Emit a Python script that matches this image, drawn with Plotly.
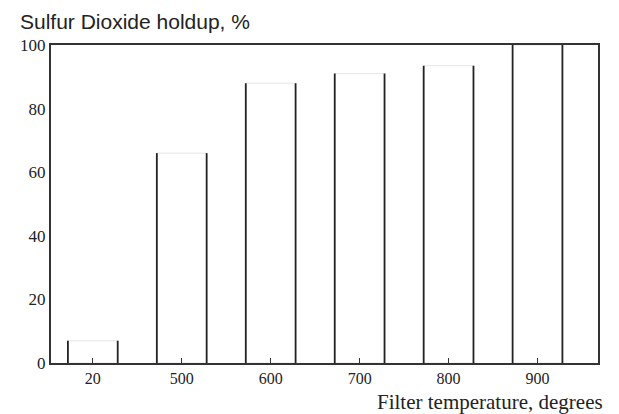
import plotly.graph_objects as go

categories = ["20", "500", "600", "700", "800", "900"]
holdup = [7, 66, 88, 91, 93.5, 100]
y_ticks = [0, 20, 40, 60, 80, 100]

W = 0.56  # bar width in category units
xs = list(range(len(categories)))

fig = go.Figure()
fig.add_trace(go.Bar(
    x=xs, y=holdup, width=W,
    marker=dict(color="white", line=dict(color="#e6e6e6", width=1)),
    hoverinfo="skip", showlegend=False,
))

sx, sy = [], []
for i, v in zip(xs, holdup):
    for edge in (i - W / 2, i + W / 2):
        sx += [edge, edge, None]
        sy += [0, v, None]
fig.add_trace(go.Scatter(
    x=sx, y=sy, mode="lines",
    line=dict(color="#222", width=1.8),
    hoverinfo="skip", showlegend=False,
))

fig.update_layout(
    width=619, height=414,
    margin=dict(l=40, r=29, t=37, b=59),
    paper_bgcolor="white", plot_bgcolor="white",
    showlegend=False,
    font=dict(family="Liberation Serif", color="#222"),
    xaxis=dict(
        range=[-0.47, 5.68],
        tickmode="array", tickvals=xs, ticktext=categories,
        ticks="inside", ticklen=5, tickwidth=1.2, tickcolor="#333",
        showline=True, linecolor="#333", linewidth=2, mirror=True,
        showgrid=False, zeroline=False,
        tickfont=dict(family="Liberation Serif", size=16, color="#222"),
    ),
    yaxis=dict(
        range=[0, 100],
        tickmode="array", tickvals=y_ticks,
        ticks="", showline=True, linecolor="#333", linewidth=2, mirror=True,
        showgrid=False, zeroline=False,
        tickfont=dict(family="Liberation Serif", size=17, color="#222"),
    ),
    annotations=[
        dict(text="Sulfur Dioxide holdup, %", xref="paper", yref="paper",
             x=0, y=1.0, xshift=-33, yshift=24, xanchor="left", yanchor="middle",
             showarrow=False,
             font=dict(family="Liberation Sans", size=21, color="#222")),
        dict(text="Filter temperature, degrees", xref="paper", yref="paper",
             x=1.0, y=0, xshift=7, yshift=-39, xanchor="right", yanchor="middle",
             showarrow=False,
             font=dict(family="Liberation Serif", size=21, color="#222")),
    ],
)

fig.write_html("out.html")
